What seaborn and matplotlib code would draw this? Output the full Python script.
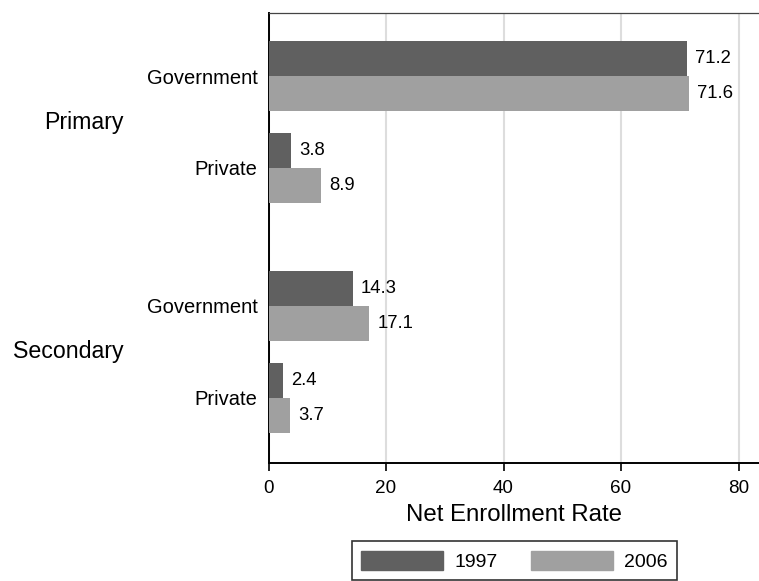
import pandas as pd
import matplotlib
matplotlib.use('Agg')
import matplotlib.pyplot as plt
import matplotlib.transforms as mtransforms
import seaborn as sns

# data
levels = ['Primary', 'Primary', 'Secondary', 'Secondary']
sectors = ['Government', 'Private', 'Government', 'Private']
rate_1997 = [71.2, 3.8, 14.3, 2.4]
rate_2006 = [71.6, 8.9, 17.1, 3.7]
years = ['1997', '2006']

# layout: row positions (gap between the two levels)
row_pos = [0.0, 1.0, 2.5, 3.5]

rows = []
for i in range(len(sectors)):
    rows.append({'pos': row_pos[i], 'year': years[0], 'rate': rate_1997[i]})
    rows.append({'pos': row_pos[i], 'year': years[1], 'rate': rate_2006[i]})
df = pd.DataFrame(rows)

sns.set_style('white')
plt.rcParams['font.family'] = ['Liberation Sans', 'DejaVu Sans']
plt.rcParams['text.color'] = 'black'
plt.rcParams['axes.labelcolor'] = 'black'
plt.rcParams['xtick.color'] = 'black'
plt.rcParams['ytick.color'] = 'black'

fig = plt.figure(figsize=(7.59, 5.81), dpi=100)
ax = fig.add_axes([268.5 / 759, 1 - 463 / 581, 1 - 268.5 / 759, (463 - 13) / 581])

sns.barplot(data=df, x='rate', y='pos', hue='year', orient='h', native_scale=True,
            width=0.76, palette=['#606060', '#a0a0a0'], errorbar=None,
            saturation=1, ax=ax, legend=False, zorder=3, linewidth=0)

for cont in ax.containers:
    ax.bar_label(cont, fmt='%.1f', padding=6, fontsize=13.3, color='black')

ax.set_xlim(0, (759 - 268.5) / 5.875)
ax.set_ylim(4.207, -0.685)
ax.set_xticks([0, 20, 40, 60, 80])
ax.tick_params(axis='x', labelsize=13.6, length=6, width=1.2, direction='out', pad=6, bottom=True)
ax.set_yticks(row_pos)
ax.set_yticklabels(sectors)
ax.tick_params(axis='y', labelsize=14.5, length=0, pad=8)
ax.set_ylabel('')
ax.set_xlabel('Net Enrollment Rate', fontsize=17.3, labelpad=5)

ax.grid(axis='x', color='#dddddd', linewidth=1.5, zorder=0)
ax.set_axisbelow(True)
for s in ['left', 'bottom']:
    ax.spines[s].set_color('black')
    ax.spines[s].set_linewidth(1.4)
ax.spines['top'].set_color('#444444')
ax.spines['top'].set_linewidth(0.9)
ax.spines['right'].set_visible(False)

# group labels
trans = mtransforms.blended_transform_factory(fig.transFigure, ax.transData)
for lvl in ['Primary', 'Secondary']:
    ys = [row_pos[i] for i in range(len(levels)) if levels[i] == lvl]
    ax.text(124 / 759, sum(ys) / len(ys), lvl, transform=trans, ha='right', va='center',
            fontsize=16.7)

# legend
handles = [plt.Rectangle((0, 0), 1, 1, color=c) for c in ['#606060', '#a0a0a0']]
leg = fig.legend(handles, years, loc='center', bbox_to_anchor=(514.5 / 759, 1 - 560.7 / 581),
                 ncol=2, fontsize=14, frameon=True, fancybox=False, edgecolor='black',
                 handlelength=4.2, handleheight=1.13, handletextpad=0.6, columnspacing=1.7,
                 borderpad=0.5)
leg.get_frame().set_linewidth(1.2)

fig.savefig('out.png', dpi=100)
